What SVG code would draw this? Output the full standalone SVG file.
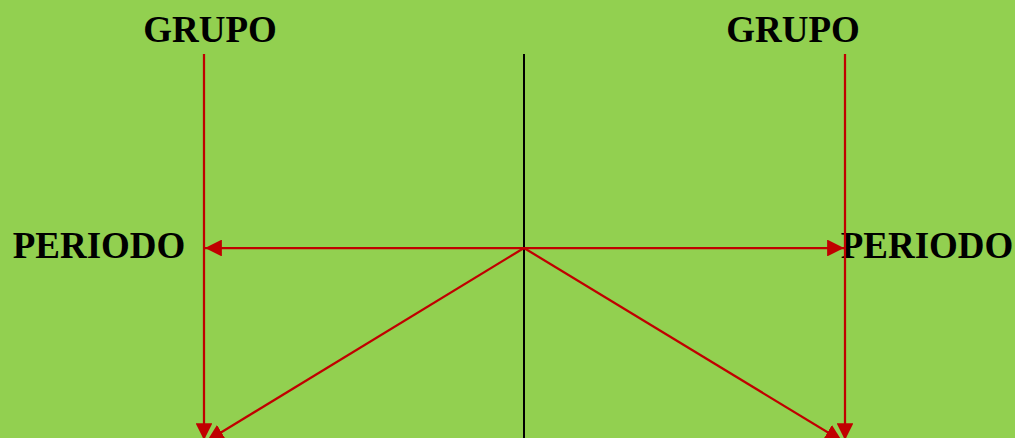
<svg xmlns="http://www.w3.org/2000/svg" width="1015" height="438" viewBox="0 0 1015 438">
<style>
.t{font-family:"Liberation Serif","Times New Roman",serif;font-weight:bold;font-size:37px;fill:#000}
.r{stroke:#C00000;stroke-width:2.25;fill:none}
</style>
<defs>
<marker id="a" viewBox="0 0 10 10" refX="10" refY="5" markerWidth="7.5" markerHeight="7.5" markerUnits="strokeWidth" orient="auto"><path d="M0,0 L10,5 L0,10 Z" fill="#C00000"/></marker>
</defs>
<rect width="1015" height="438" fill="#92D050"/>
<g id="grupo-left"><text class="t" x="210" y="42" text-anchor="middle">GRUPO</text></g>
<g id="grupo-right"><text class="t" x="793" y="42" text-anchor="middle">GRUPO</text></g>
<g id="periodo-left"><text class="t" x="99" y="258" text-anchor="middle">PERIODO</text></g>
<g id="periodo-right"><text class="t" x="927" y="258" text-anchor="middle">PERIODO</text></g>
<g id="connectors">
<line x1="524" y1="54" x2="524" y2="438" stroke="#000" stroke-width="2"/>
<line class="r" x1="204" y1="54" x2="204" y2="440" marker-end="url(#a)"/>
<line class="r" x1="845" y1="54" x2="845" y2="440" marker-end="url(#a)"/>
<line class="r" x1="524" y1="248" x2="205" y2="248" marker-end="url(#a)"/>
<line class="r" x1="524" y1="248" x2="844" y2="248" marker-end="url(#a)"/>
<line class="r" x1="524" y1="248" x2="207" y2="441" marker-end="url(#a)"/>
<line class="r" x1="524" y1="248" x2="842" y2="441" marker-end="url(#a)"/>
</g>
</svg>
